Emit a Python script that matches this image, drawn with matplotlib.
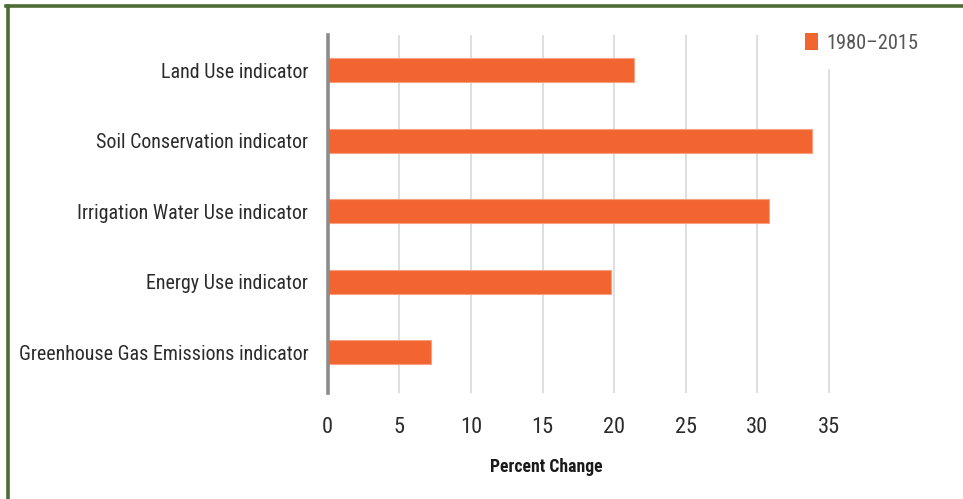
import matplotlib
matplotlib.use("Agg")
import matplotlib.pyplot as plt
from matplotlib.lines import Line2D
from matplotlib.patches import Patch
from matplotlib import font_manager as fm

categories = [
    "Land Use indicator",
    "Soil Conservation indicator",
    "Irrigation Water Use indicator",
    "Energy Use indicator",
    "Greenhouse Gas Emissions indicator",
]
values = [21.4, 33.8, 30.8, 19.8, 7.2]
series_name = "1980\u20132015"
xticks = [0, 5, 10, 15, 20, 25, 30, 35]
xlabel = "Percent Change"

BAR = "#f26531"

# choose a narrow face if one is installed
names = {f.name for f in fm.fontManager.ttflist}
family = "DejaVu Sans"
for cand in ["Roboto Condensed", "Liberation Sans Narrow", "Open Sans Condensed",
             "DejaVu Sans Condensed"]:
    if cand in names:
        family = cand
        break
plt.rcParams["font.family"] = [family, "DejaVu Sans"]

W, H = 963, 499
fig = plt.figure(figsize=(W / 100, H / 100), dpi=100)
fig.patch.set_facecolor("white")
renderer = fig.canvas.get_renderer()


def fit_size(text, target_px, weight="normal", base=15.0):
    t = fig.text(0, 0, text, fontsize=base, fontweight=weight)
    w = t.get_window_extent(renderer).width
    t.remove()
    return base * target_px / w


ysize = fit_size("Greenhouse Gas Emissions indicator", 290)
xsize = fit_size("35", 22)
lsize = fit_size(series_name, 92)
bsize = fit_size(xlabel, 112, weight="bold")

x0, x35 = 327.7, 829.0
ppu = (x35 - x0) / 35.0
xmax = 38.0
left = x0 / W
width = xmax * ppu / W
top_px, bot_px = 35, 393
ax = fig.add_axes([left, 1 - bot_px / H, width, (bot_px - top_px) / H])

ypos = list(range(len(categories)))
ax.barh(ypos, values, height=0.34, color=BAR, edgecolor="#f7a07f", linewidth=0.8, zorder=3)
ax.set_ylim(4.58, -0.5)
ax.set_xlim(0, xmax)

for t in xticks[1:]:
    top_frac = 1.0 if t < 35 else (bot_px - 70) / (bot_px - top_px)
    ax.axvline(t, ymax=top_frac, color="#d9d9d9", linewidth=1.2, zorder=1)
ax.axvline(0, color="#8c8c8c", linewidth=2.6, zorder=4, clip_on=False)

for s in ax.spines.values():
    s.set_visible(False)

ax.set_yticks(ypos)
ax.set_yticklabels(categories, fontsize=ysize, color="#2b2b2b")
ax.set_xticks(xticks)
ax.set_xticklabels([str(t) for t in xticks], fontsize=xsize, color="#2b2b2b")
ax.tick_params(axis="both", length=0)
ax.tick_params(axis="y", pad=14)
ax.tick_params(axis="x", pad=17)

fig.text(546 / W, 1 - 467 / H, xlabel, ha="center", va="center",
         fontsize=bsize, fontweight="bold", color="#1a1a1a")

# legend
handle = Patch(facecolor=BAR, edgecolor="none")
leg = fig.legend([handle], [series_name], loc="center left",
                 bbox_to_anchor=(795 / W, 1 - 43 / H), frameon=False,
                 fontsize=lsize, handlelength=0.65, handleheight=0.9,
                 handletextpad=0.4, borderpad=0)
for t in leg.get_texts():
    t.set_color("#555555")

# frame
fig.add_artist(Line2D([7.5 / W, 7.5 / W], [0, 1 - 5.5 / H], transform=fig.transFigure,
                      color="#4f6b35", linewidth=2.6))
fig.add_artist(Line2D([6.2 / W, 1], [1 - 5.5 / H, 1 - 5.5 / H], transform=fig.transFigure,
                      color="#4f6b35", linewidth=2.6))

fig.savefig("out.png", dpi=100, facecolor="white")
